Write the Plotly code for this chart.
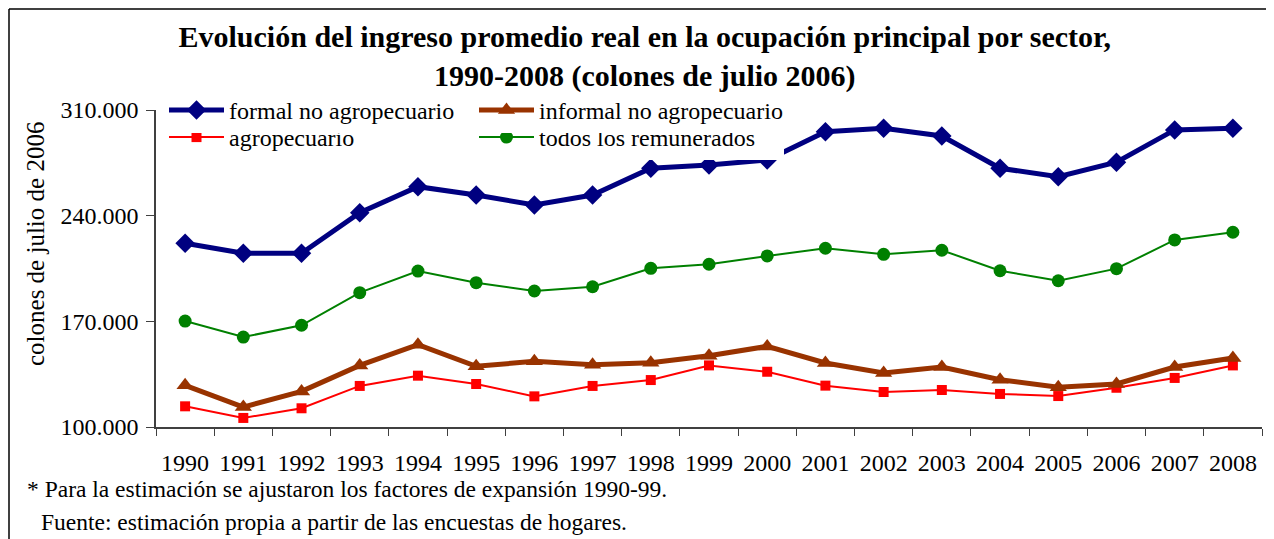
import plotly.graph_objects as go

FONT = 'Liberation Serif'
OFF = 8  # page body margin
W, H = 1274 - OFF, 539 - OFF
# plot area in page pixels: x 156..1262, y 110..427
L, R, T, B = 156 - OFF, 1274 - 1262, 110 - OFF, 539 - 427

years = [str(y) for y in range(1990, 2009)]

formal = [221700, 215100, 215100, 242000, 259200, 253700, 247100, 253700, 271400, 273600,
          276900, 295600, 297900, 292800, 271400, 265800, 275400, 296800, 297900]
informal = [127600, 113200, 123600, 140800, 154500, 140200, 143500, 141300, 142600, 147200,
            153400, 142400, 135800, 139700, 131300, 126300, 128500, 139700, 145700]
agro = [113700, 106000, 112400, 127200, 134000, 128500, 120300, 127200, 131100, 140800,
        136600, 127400, 123200, 124500, 121900, 120500, 126000, 132500, 140800]
todos = [170200, 159600, 167400, 189000, 203300, 195600, 190100, 192900, 205100, 207800,
         213300, 218400, 214400, 217100, 203500, 196900, 204900, 223900, 229000]

y_ticks = [100000, 170000, 240000, 310000]

# legend row 2 first so that row 1 boxes are drawn on top of them
series = [
    ('agropecuario', agro, '#FF0000', 2, 'square', 10, 'legend'),
    ('todos los remunerados', todos, '#008000', 2, 'circle', 13, 'legend2'),
    ('formal no agropecuario', formal, '#000080', 5, 'diamond', 15, 'legend3'),
    ('informal no agropecuario', informal, '#993300', 5, 'triangle-up', 15, 'legend4'),
]

fig = go.Figure()
for name, vals, color, lw, sym, ms, leg in series:
    fig.add_trace(go.Scatter(
        x=years, y=vals, name=name, mode='lines+markers',
        line=dict(color=color, width=lw),
        marker=dict(symbol=sym, size=ms, color=color),
        legend=leg, showlegend=True
    ))


# page pixel -> paper coords
def px_x(p):
    return (p - OFF - L) / (W - L - R)


def px_y(p):
    return (H - B - (p - OFF)) / (H - T - B)


def legend_at(x, y, entry=0):
    return dict(
        orientation='h', xanchor='left', yanchor='top', x=px_x(x), y=px_y(y),
        entrywidth=entry, entrywidthmode='pixels',
        bgcolor='white', borderwidth=0, itemwidth=55,
        font=dict(family=FONT, size=24, color='black')
    )


def note(text, x, y, size=23.5, angle=0, anchor='left'):
    return dict(text=text, xref='paper', yref='paper', x=px_x(x), y=px_y(y),
                xanchor=anchor, yanchor='middle', showarrow=False, textangle=angle,
                font=dict(family=FONT, size=size, color='black'))


fig.update_layout(
    width=W, height=H,
    margin=dict(l=L, r=R, t=T, b=B),
    paper_bgcolor='white', plot_bgcolor='white',
    separators=',.',
    showlegend=True,
    font=dict(family=FONT, color='black'),
    title=dict(
        text='<b>Evolución del ingreso promedio real en la ocupación principal por sector,<br>1990-2008 (colones de julio 2006)</b>',
        x=0.503, xanchor='center', y=1 - 39 / H, yanchor='middle',
        font=dict(family=FONT, size=30, color='black')
    ),
    legend=legend_at(164, 115),
    legend2=legend_at(474, 115, entry=240),
    legend3=legend_at(164, 88),
    legend4=legend_at(474, 88),
    xaxis=dict(
        type='category', range=[-0.5, 18.5], tickson='boundaries',
        showline=True, linecolor='#404040', linewidth=1.5,
        ticks='outside', ticklen=7, tickcolor='#404040',
        showgrid=False, zeroline=False, ticklabelstandoff=13,
        tickfont=dict(family=FONT, size=24, color='black')
    ),
    yaxis=dict(
        range=[100000, 310000], tickvals=y_ticks, tickformat=',.0f',
        showline=True, linecolor='#404040', linewidth=1.5,
        ticks='outside', ticklen=8, tickcolor='#404040',
        showgrid=False, zeroline=False, ticklabelstandoff=3,
        tickfont=dict(family=FONT, size=24, color='black')
    ),
    annotations=[
        note('colones de julio de 2006', 35, 244, size=25, angle=-90, anchor='center'),
        note('* Para la estimación se ajustaron los factores de expansión 1990-99.', 25, 489),
        note('Fuente: estimación propia a partir de las encuestas de hogares.', 39, 522),
    ],
    shapes=[
        dict(type='line', xref='paper', yref='paper', x0=px_x(9), x1=px_x(1274),
             y0=px_y(9), y1=px_y(9), line=dict(color='black', width=1.5)),
        dict(type='line', xref='paper', yref='paper', x0=px_x(9), x1=px_x(9),
             y0=px_y(9), y1=px_y(539), line=dict(color='black', width=1.5)),
    ]
)

fig.write_html('out.html')
